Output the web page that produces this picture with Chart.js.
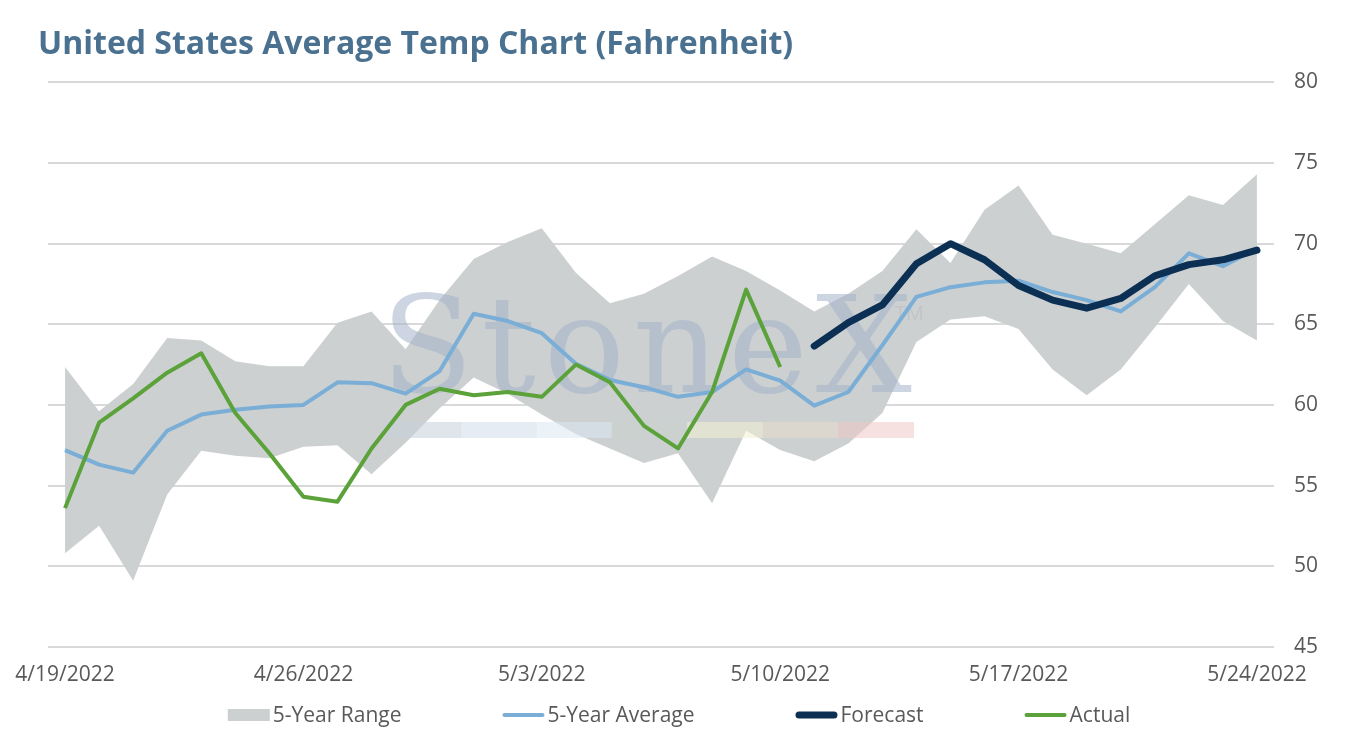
<!DOCTYPE html>
<html>
<head>
<meta charset="utf-8">
<script src="https://cdn.jsdelivr.net/npm/chart.js@4.4.1/dist/chart.umd.min.js"></script>
<style>
  html, body { margin: 0; padding: 0; background: #fff; }
  #wrap { width: 1352px; height: 740px; }
</style>
</head>
<body>
<div id="wrap"><canvas id="tempChart"></canvas></div>
<script>
var dates = ['4/19/2022', '4/20/2022', '4/21/2022', '4/22/2022', '4/23/2022', '4/24/2022', '4/25/2022',
  '4/26/2022', '4/27/2022', '4/28/2022', '4/29/2022', '4/30/2022', '5/1/2022', '5/2/2022',
  '5/3/2022', '5/4/2022', '5/5/2022', '5/6/2022', '5/7/2022', '5/8/2022', '5/9/2022',
  '5/10/2022', '5/11/2022', '5/12/2022', '5/13/2022', '5/14/2022', '5/15/2022', '5/16/2022',
  '5/17/2022', '5/18/2022', '5/19/2022', '5/20/2022', '5/21/2022', '5/22/2022', '5/23/2022', '5/24/2022'];

var rangeHigh = [62.35, 59.6, 61.3, 64.15, 64.0, 62.7, 62.4, 62.4, 65.1, 65.8, 63.45, 66.5,
  69.05, 70.1, 70.95, 68.2, 66.3, 66.9, 68.0, 69.2, 68.3, 67.1, 65.8, 66.9,
  68.3, 70.9, 68.8, 72.1, 73.6, 70.55, 70.0, 69.4, 71.2, 73.0, 72.4, 74.3];

var rangeLow = [50.8, 52.5, 49.1, 54.45, 57.15, 56.85, 56.7, 57.4, 57.5, 55.7, 57.65, 59.8,
  61.7, 60.7, 59.4, 58.2, 57.3, 56.4, 57.0, 53.9, 58.4, 57.2, 56.5, 57.6,
  59.5, 63.9, 65.3, 65.5, 64.7, 62.2, 60.6, 62.2, 64.8, 67.5, 65.2, 64.0];

var fiveYearAvg = [57.2, 56.3, 55.8, 58.4, 59.4, 59.7, 59.9, 60.0, 61.4, 61.35, 60.7, 62.1,
  65.65, 65.2, 64.45, 62.55, 61.55, 61.1, 60.5, 60.8, 62.2, 61.5, 59.95, 60.8,
  63.7, 66.7, 67.3, 67.6, 67.7, 67.0, 66.5, 65.8, 67.3, 69.4, 68.6, 69.7];

var forecast = [null, null, null, null, null, null, null, null, null, null, null, null,
  null, null, null, null, null, null, null, null, null, null, 63.65, 65.1,
  66.2, 68.75, 70.0, 69.0, 67.4, 66.5, 66.0, 66.6, 68.0, 68.7, 69.0, 69.6];

var actual = [53.6, 58.9, 60.4, 62.0, 63.2, 59.5, 57.0, 54.3, 54.0, 57.3, 60.0, 61.0,
  60.6, 60.8, 60.5, 62.5, 61.4, 58.7, 57.3, 60.8, 67.15, 62.35, null, null,
  null, null, null, null, null, null, null, null, null, null, null, null];

var yTicks = [45, 50, 55, 60, 65, 70, 75, 80];

var FONT = "'Open Sans', 'Noto Sans', sans-serif";
var GREY = '#ccd0d1';
var BLUE = '#7aaed6';
var NAVY = '#0c2f54';
var GREEN = '#5ca23a';

// faint StoneX mark sitting on top of the range band, under the lines
var watermark = {
  id: 'watermark',
  afterDatasetDraw: function (chart, args) {
    if (args.index !== 3) return;
    var ctx = chart.ctx;
    ctx.save();
    ctx.globalAlpha = 0.55;
    ctx.fillStyle = '#a3b3c9';
    ctx.font = "135px 'DejaVu Serif', 'Liberation Serif', serif";
    ctx.letterSpacing = '8px';
    ctx.textBaseline = 'alphabetic';
    ctx.fillText('StoneX', 381, 392);
    ctx.letterSpacing = '0px';
    ctx.font = '20px ' + FONT;
    ctx.fillStyle = '#b8bcc0';
    ctx.fillText('TM', 895, 320);
    var stripes = ['#c6cfdb', '#d2dcea', '#dbe7f2', '#c9d2cd', '#f3f0d4', '#e7ddcd', '#f0c6c6'];
    var x0 = 385, w = 75.5;
    for (var i = 0; i < stripes.length; i++) {
      ctx.fillStyle = stripes[i];
      ctx.fillRect(x0 + i * w, 422, w + 0.5, 16);
    }
    ctx.restore();
  }
};

// legend row drawn by hand so the spacing matches the original
var bottomLegend = {
  id: 'bottomLegend',
  afterDraw: function (chart) {
    var ctx = chart.ctx;
    var items = [
      { text: chart.data.datasets[3].label, color: GREY, kind: 'box', lw: 0 },
      { text: chart.data.datasets[2].label, color: BLUE, kind: 'line', lw: 4 },
      { text: chart.data.datasets[1].label, color: NAVY, kind: 'line', lw: 7 },
      { text: chart.data.datasets[0].label, color: GREEN, kind: 'line', lw: 4 }
    ];
    var boxW = 42, gapText = 3, gapItem = 101, y = 715;
    ctx.save();
    ctx.font = '21px ' + FONT;
    var total = 0;
    items.forEach(function (it) {
      it.w = boxW + gapText + ctx.measureText(it.text).width;
      total += it.w;
    });
    total += gapItem * (items.length - 1);
    var x = chart.width / 2 + 3 - total / 2;
    ctx.textBaseline = 'middle';
    items.forEach(function (it) {
      if (it.kind === 'box') {
        ctx.fillStyle = it.color;
        ctx.fillRect(x, y - 6, boxW, 12);
      } else {
        ctx.strokeStyle = it.color;
        ctx.lineWidth = it.lw;
        ctx.lineCap = 'round';
        ctx.beginPath();
        ctx.moveTo(x + it.lw / 2, y);
        ctx.lineTo(x + boxW - it.lw / 2, y);
        ctx.stroke();
      }
      ctx.fillStyle = '#595959';
      ctx.fillText(it.text, x + boxW + gapText, y + 1);
      x += it.w + gapItem;
    });
    ctx.restore();
  }
};

var ctx = document.getElementById('tempChart');
new Chart(ctx, {
  type: 'line',
  data: {
    labels: dates,
    datasets: [
      {
        label: 'Actual',
        data: actual,
        borderColor: GREEN,
        borderWidth: 4,
        pointRadius: 0,
        tension: 0,
        borderJoinStyle: 'round',
        fill: false
      },
      {
        label: 'Forecast',
        data: forecast,
        borderColor: NAVY,
        borderWidth: 7,
        pointRadius: 0,
        tension: 0,
        borderJoinStyle: 'round',
        borderCapStyle: 'round',
        fill: false
      },
      {
        label: '5-Year Average',
        data: fiveYearAvg,
        borderColor: BLUE,
        borderWidth: 4,
        pointRadius: 0,
        tension: 0,
        borderJoinStyle: 'round',
        fill: false
      },
      {
        label: '5-Year Range',
        data: rangeHigh,
        borderWidth: 0,
        borderColor: GREY,
        backgroundColor: GREY,
        pointRadius: 0,
        tension: 0,
        fill: '+1'
      },
      {
        label: 'range low',
        data: rangeLow,
        borderWidth: 0,
        borderColor: GREY,
        pointRadius: 0,
        tension: 0,
        fill: false
      }
    ]
  },
  options: {
    responsive: true,
    maintainAspectRatio: false,
    animation: false,
    devicePixelRatio: 1,
    layout: { padding: { left: 38, right: 14, top: 0, bottom: 36 } },
    plugins: {
      legend: { display: false },
      tooltip: { enabled: false },
      title: {
        display: true,
        text: 'United States Average Temp Chart (Fahrenheit)',
        align: 'start',
        color: '#4b7190',
        font: { family: FONT, size: 32, weight: 'bold' },
        padding: { top: 26, bottom: 18 }
      }
    },
    scales: {
      x: {
        type: 'category',
        offset: true,
        grid: { display: false, drawTicks: false },
        border: { display: false },
        ticks: {
          autoSkip: false,
          maxRotation: 0,
          padding: 16,
          color: '#595959',
          font: { family: FONT, size: 21 },
          callback: function (v, i) { return i % 7 === 0 ? dates[i] : ''; }
        },
        afterFit: function (scale) {
          scale.paddingLeft = 48;
          scale.paddingRight = 0;
        }
      },
      y: {
        position: 'right',
        min: yTicks[0],
        max: yTicks[yTicks.length - 1],
        grid: { color: '#d9d9d9', lineWidth: 2, drawTicks: false },
        border: { display: false },
        afterBuildTicks: function (scale) {
          scale.ticks = yTicks.map(function (v) { return { value: v }; });
        },
        ticks: {
          padding: 20,
          color: '#595959',
          font: { family: FONT, size: 21 }
        }
      }
    }
  },
  plugins: [watermark, bottomLegend]
});
</script>
</body>
</html>
